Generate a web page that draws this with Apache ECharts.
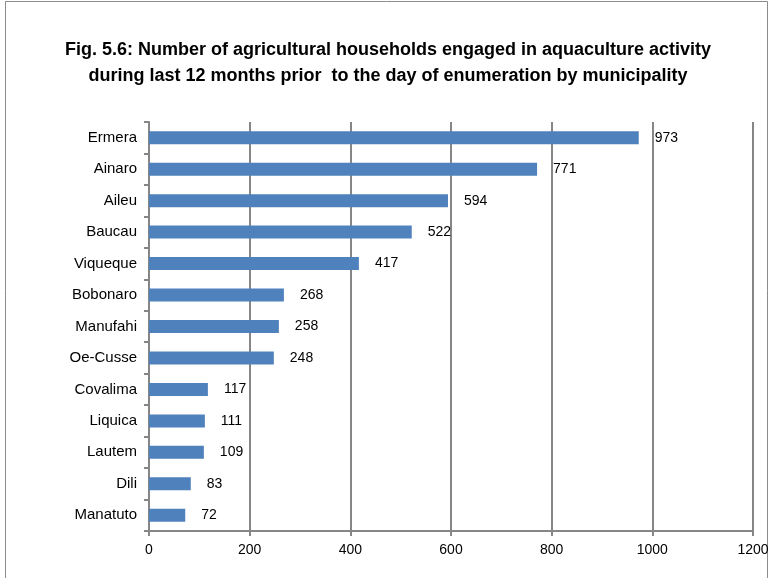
<!DOCTYPE html>
<html>
<head>
<meta charset="utf-8">
<script src="https://cdn.jsdelivr.net/npm/echarts@6/dist/echarts.min.js"></script>
<style>
html,body{margin:0;padding:0;background:#fff;}
#main{width:776px;height:578px;}
</style>
</head>
<body>
<div id="main"></div>
<script>
var municipalities = ['Ermera','Ainaro','Aileu','Baucau','Viqueque','Bobonaro','Manufahi','Oe-Cusse','Covalima','Liquica','Lautem','Dili','Manatuto'];
var households = [973, 771, 594, 522, 417, 268, 258, 248, 117, 111, 109, 83, 72];
var xTicks = [0, 200, 400, 600, 800, 1000, 1200];

var font = "'Liberation Sans', Arial, sans-serif";
var myChart = echarts.init(document.getElementById('main'));

var option = {
	graphic: [{
		type: 'rect',
		shape: {x: 5.5, y: 1.5, width: 762, height: 590},
		style: {fill: 'none', stroke: '#8c8c8c', lineWidth: 1}
	}],
	title: {
		text: 'Fig. 5.6: Number of agricultural households engaged in aquaculture activity\nduring last 12 months prior  to the day of enumeration by municipality',
		left: 'center',
		top: 32,
		textStyle: {fontFamily: font, fontWeight: 'bold', fontSize: 18, lineHeight: 26, color: '#000'}
	},
	grid: {left: 149, right: 23, top: 122, bottom: 47},
	xAxis: {
		type: 'value',
		min: xTicks[0],
		max: xTicks[xTicks.length - 1],
		interval: 200,
		axisLine: {show: true, lineStyle: {color: '#868686', width: 2}},
		axisTick: {show: true, length: 5, lineStyle: {color: '#868686', width: 2}},
		axisLabel: {fontFamily: font, fontSize: 14, color: '#000', margin: 12, formatter: function (v) { return String(v); }},
		splitLine: {show: true, lineStyle: {color: '#868686', width: 2}}
	},
	yAxis: {
		type: 'category',
		inverse: true,
		data: municipalities,
		axisLine: {show: true, lineStyle: {color: '#868686', width: 2}},
		axisTick: {show: true, length: 5, lineStyle: {color: '#868686', width: 2}},
		axisLabel: {fontFamily: font, fontSize: 15, color: '#000', margin: 12}
	},
	series: [{
		type: 'bar',
		data: households,
		barWidth: 13,
		itemStyle: {color: '#4F81BD'},
		label: {show: true, position: 'right', distance: 16, fontFamily: font, fontSize: 14, color: '#000'}
	}]
};

myChart.setOption(option);
</script>
</body>
</html>
